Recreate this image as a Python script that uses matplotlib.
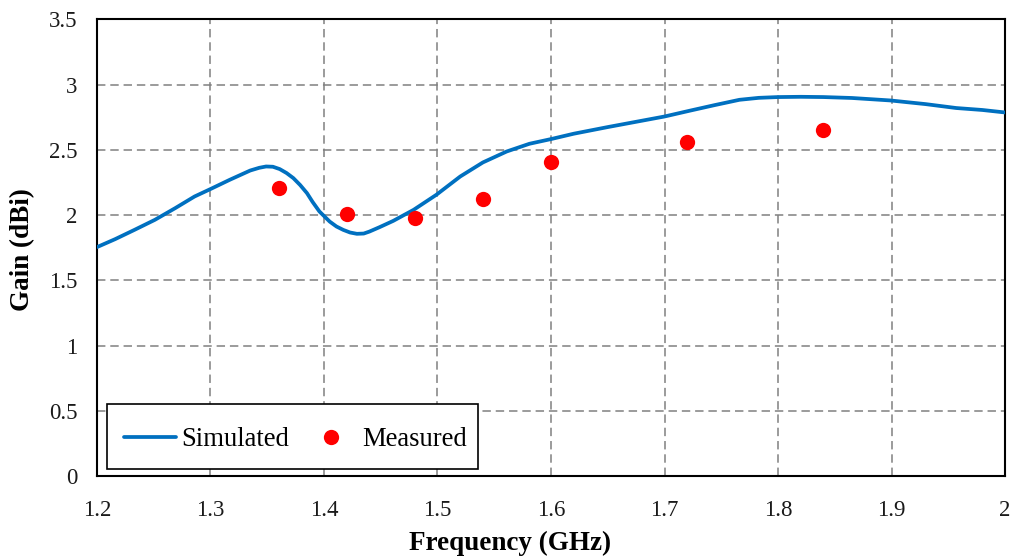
import matplotlib
matplotlib.use("Agg")
import matplotlib.pyplot as plt
from matplotlib.patches import Rectangle

# Simulated gain curve (frequency in GHz, gain in dBi)
sim_freq = [1.200, 1.216, 1.233, 1.251, 1.269, 1.286, 1.300, 1.317, 1.335, 1.343,
            1.349, 1.355, 1.361, 1.367, 1.373, 1.379, 1.385, 1.390, 1.396, 1.405,
            1.411, 1.417, 1.423, 1.429, 1.435, 1.440, 1.449, 1.461, 1.479, 1.499,
            1.520, 1.540, 1.561, 1.581, 1.600, 1.620, 1.650, 1.700, 1.722, 1.744,
            1.766, 1.783, 1.800, 1.820, 1.840, 1.865, 1.899, 1.930, 1.957, 1.980,
            2.000]
sim_gain = [1.754, 1.815, 1.886, 1.963, 2.053, 2.142, 2.199, 2.270, 2.341, 2.362,
            2.372, 2.370, 2.352, 2.322, 2.283, 2.230, 2.168, 2.100, 2.027, 1.950,
            1.912, 1.886, 1.866, 1.856, 1.858, 1.873, 1.907, 1.955, 2.040, 2.155,
            2.295, 2.403, 2.487, 2.546, 2.582, 2.623, 2.674, 2.755, 2.799, 2.842,
            2.883, 2.898, 2.904, 2.906, 2.904, 2.897, 2.878, 2.850, 2.820, 2.805,
            2.786]

# Measured gain
meas_freq = [1.36, 1.42, 1.48, 1.54, 1.60, 1.72, 1.84]
meas_gain = [2.21, 2.01, 1.98, 2.12, 2.41, 2.56, 2.65]

x_ticks = [1.2, 1.3, 1.4, 1.5, 1.6, 1.7, 1.8, 1.9, 2.0]
x_tick_labels = ["1.2", "1.3", "1.4", "1.5", "1.6", "1.7", "1.8", "1.9", "2"]
y_ticks = [0, 0.5, 1, 1.5, 2, 2.5, 3, 3.5]
y_tick_labels = ["0", "0.5", "1", "1.5", "2", "2.5", "3", "3.5"]

plt.rcParams["font.family"] = ["Liberation Serif", "DejaVu Serif"]

fig = plt.figure(figsize=(10.11, 5.56), dpi=100)
ax = fig.add_axes([0.0959, 0.1439, 0.8982, 0.8214])

ax.plot(sim_freq, sim_gain, color="#0070C0", lw=2.7, label="Simulated",
        solid_capstyle="round", solid_joinstyle="round", zorder=3)
ax.plot(meas_freq, meas_gain, "o", color="#FF0000", ms=11, mec="none",
        label="Measured", zorder=4)

ax.set_xlim(1.2, 2.0)
ax.set_ylim(0, 3.5)
ax.set_xticks(x_ticks)
ax.set_xticklabels(x_tick_labels)
ax.set_yticks(y_ticks)
ax.set_yticklabels(y_tick_labels)
ax.tick_params(axis="both", length=0, labelsize=16.5, colors="#1a1a1a")
ax.tick_params(axis="x", pad=17)
ax.tick_params(axis="y", pad=14)

ax.grid(True, color="#808080", ls=(0, (5.5, 3.2)), lw=1.1)
for s in ax.spines.values():
    s.set_linewidth(1.5)
    s.set_color("black")

ax.set_xlabel("Frequency (GHz)", fontsize=19.5, fontweight="bold", va="center")
ax.xaxis.set_label_coords(0.455, -0.147)
ax.set_ylabel("Gain (dBi)", fontsize=19.5, fontweight="bold", va="center")
ax.yaxis.set_label_coords(-0.082, 0.495)

# legend box drawn as its own frame, entries placed inside it
ax.add_patch(Rectangle((0.011, 0.0153), 0.4086, 0.1423, transform=ax.transAxes,
                       facecolor="white", edgecolor="black", lw=1.2,
                       zorder=4.9, clip_on=False))
leg = ax.legend(loc="center left", ncol=2, fontsize=19.2, frameon=False,
                bbox_to_anchor=(0.0297, 0.080), borderpad=0,
                handlelength=1.96, handletextpad=0.18, columnspacing=0.6,
                borderaxespad=0)
leg.set_zorder(5)

fig.savefig("out.png", dpi=100)
